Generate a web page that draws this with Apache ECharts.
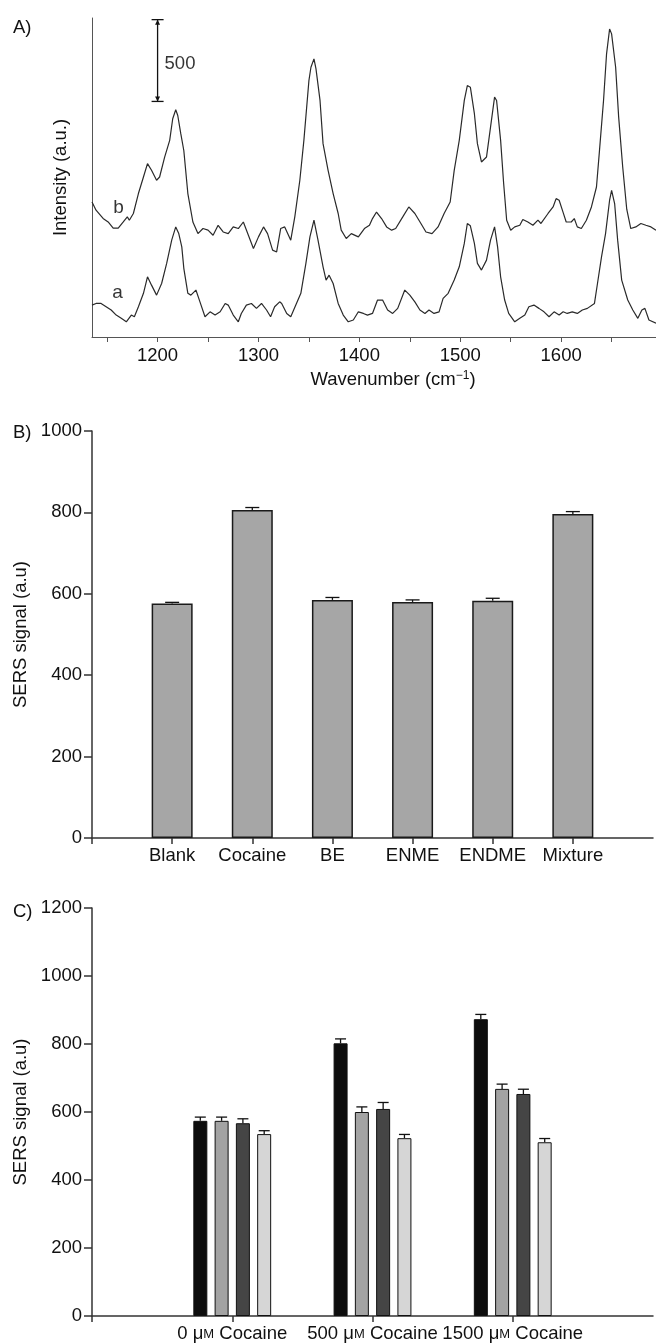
<!DOCTYPE html>
<html>
<head>
<meta charset="utf-8">
<title>SERS spectra and signals</title>
<script src="https://cdn.jsdelivr.net/npm/echarts@6/dist/echarts.min.js"></script>
<style>
html, body { margin: 0; padding: 0; background: #fff; }
#chart { width: 656px; height: 1344px; }
</style>
</head>
<body>
<div id="chart"></div>
<script>
// A) spectra, [wavenumber, intensity]
const spectrumB = [
  [1135,825],[1139,775],[1146,725],[1151,703],[1156,665],[1161,665],[1166,703],[1170,734],[1172,714],[1176,755],
  [1181,877],[1186,978],[1190,1060],[1194,1019],[1199,958],[1202,978],[1207,1100],[1212,1202],[1215,1334],[1218,1389],
  [1220,1354],[1223,1243],[1226,1140],[1230,877],[1235,703],[1240,632],[1245,663],[1250,653],[1255,622],[1260,683],
  [1265,642],[1270,632],[1275,673],[1280,663],[1285,703],[1290,622],[1295,541],[1300,612],[1305,673],[1309,632],
  [1314,531],[1318,520],[1322,663],[1326,673],[1332,592],[1336,734],[1341,958],[1345,1202],[1350,1568],[1352,1649],
  [1355,1700],[1357,1639],[1361,1446],[1364,1182],[1369,1019],[1374,877],[1379,755],[1382,653],[1387,602],[1392,632],
  [1399,612],[1405,663],[1410,683],[1413,724],[1417,764],[1422,724],[1427,673],[1432,653],[1436,663],[1443,734],
  [1449,795],[1455,755],[1461,694],[1466,642],[1472,632],[1478,673],[1484,755],[1490,825],[1494,1019],[1499,1202],
  [1504,1446],[1507,1537],[1510,1527],[1514,1365],[1517,1182],[1521,1070],[1526,1100],[1530,1283],[1534,1466],[1536,1446],
  [1540,1202],[1543,938],[1546,714],[1550,653],[1554,673],[1559,683],[1562,718],[1567,703],[1572,683],[1577,714],
  [1580,694],[1587,755],[1592,795],[1595,846],[1598,836],[1602,760],[1605,703],[1610,703],[1613,724],[1616,673],
  [1620,663],[1625,714],[1630,795],[1635,917],[1638,1141],[1642,1446],[1645,1731],[1648,1883],[1650,1853],[1654,1649],
  [1657,1344],[1661,1039],[1665,781],[1669,663],[1674,673],[1679,694],[1684,683],[1689,673],[1694,653]
];
const spectrumA = [
  [1135,195],[1139,205],[1144,205],[1149,185],[1154,165],[1159,134],[1164,114],[1169,93],[1174,134],[1177,124],
  [1181,185],[1186,267],[1190,368],[1194,317],[1199,256],[1204,327],[1209,450],[1214,592],[1218,673],[1221,632],
  [1224,551],[1226,420],[1230,267],[1233,256],[1238,287],[1242,215],[1247,124],[1252,154],[1257,134],[1262,154],
  [1267,205],[1270,195],[1275,134],[1280,93],[1283,144],[1288,195],[1293,205],[1298,175],[1303,205],[1308,165],
  [1312,124],[1316,185],[1321,215],[1323,205],[1328,144],[1332,124],[1337,195],[1342,267],[1347,450],[1351,612],
  [1355,714],[1359,592],[1364,429],[1367,348],[1370,378],[1374,327],[1379,205],[1384,134],[1389,93],[1394,104],
  [1399,154],[1404,144],[1408,134],[1413,144],[1418,226],[1423,226],[1428,165],[1433,144],[1438,175],[1445,287],
  [1450,256],[1455,215],[1460,165],[1465,144],[1469,165],[1474,144],[1479,154],[1483,236],[1488,267],[1494,348],
  [1499,429],[1504,572],[1507,694],[1510,680],[1514,572],[1517,450],[1521,409],[1526,470],[1530,592],[1534,673],
  [1537,551],[1540,368],[1544,226],[1548,144],[1554,93],[1559,114],[1564,134],[1568,185],[1573,195],[1578,175],
  [1583,154],[1588,124],[1593,154],[1598,134],[1602,154],[1606,144],[1611,154],[1616,144],[1621,165],[1626,175],
  [1633,205],[1636,327],[1640,490],[1644,632],[1648,836],[1650,897],[1653,816],[1656,592],[1660,348],[1666,226],
  [1671,165],[1676,114],[1680,165],[1683,175],[1687,104],[1694,84]
];
const waveTicks = [1150, 1200, 1250, 1300, 1350, 1400, 1450, 1500, 1550, 1600, 1650];
const waveLabels = [1200, 1300, 1400, 1500, 1600];
const traceNames = [['b', 1156, 787], ['a', 1155, 268]];
const scaleBar = [1200, 1440, 500]; // wavenumber, start, length

// B) selectivity
const analytes = ['Blank', 'Cocaine', 'BE', 'ENME', 'ENDME', 'Mixture'];
const analyteSignal = [576, 806, 585, 580, 583, 796];
const analyteError = [3, 6, 6, 5, 6, 6];

// C) cocaine levels, one row per bar colour
const cocaineLevels = ['0 μM Cocaine', '500 μM Cocaine', '1500 μM Cocaine'];
const groupSignal = [
  [574, 802, 873],
  [574, 600, 668],
  [567, 609, 653],
  [535, 523, 511]
];
const groupError = [
  [11, 13, 14],
  [11, 15, 14],
  [13, 19, 14],
  [10, 11, 11]
];
const groupColors = ['#0d0d0d', '#a3a3a3', '#454545', '#d6d6d6'];

const FONT = 'Liberation Sans, Arial, sans-serif';
const FS = 18.5;
const TXT = '#111';
const AXIS = '#333';

const chart = echarts.init(document.getElementById('chart'));

const pad = arr => [''].concat(arr, ['']);
const plain = v => String(v);

const errorBar = (offset, cap) => (params, api) => {
  const x = api.value(0);
  const base = api.coord([x, api.value(1)]);
  const top = api.coord([x, api.value(1) + api.value(2)]);
  const cx = base[0] + offset;
  const style = { stroke: '#111', lineWidth: 1.3 };
  return {
    type: 'group',
    children: [
      { type: 'line', shape: { x1: cx, y1: base[1], x2: cx, y2: top[1] }, style },
      { type: 'line', shape: { x1: cx - cap, y1: top[1], x2: cx + cap, y2: top[1] }, style }
    ]
  };
};

const valueAxisStyle = {
  axisLine: { show: true, lineStyle: { color: AXIS, width: 1.5 } },
  axisTick: { show: true, length: 8, lineStyle: { color: AXIS, width: 1.5 } },
  axisLabel: { color: TXT, fontSize: FS, fontFamily: FONT, margin: 10, formatter: plain },
  splitLine: { show: false },
  nameLocation: 'middle',
  nameRotate: 90,
  nameGap: 61,
  nameTextStyle: { color: TXT, fontSize: FS, fontFamily: FONT }
};

const categoryAxisStyle = {
  type: 'category', boundaryGap: false,
  axisLine: { lineStyle: { color: AXIS, width: 1.5 } },
  axisTick: { show: true, length: 6, interval: (i, v) => i === 0 || v !== '', lineStyle: { color: AXIS, width: 1.5 } },
  axisLabel: {
    color: TXT, fontSize: FS, fontFamily: FONT, margin: 8, interval: 0,
    formatter: v => v.replace('μM', '{u|μ}{m|M}'),
    rich: {
      u: { fontSize: FS, fontFamily: FONT, color: TXT },
      m: { fontSize: 13, fontFamily: FONT, color: TXT, padding: [2, 0, 0, 0] }
    }
  }
};

const barWidthC = 14;
const stepC = 21.3;

const series = [
  {
    type: 'line', xAxisIndex: 0, yAxisIndex: 0, data: spectrumB, showSymbol: false,
    lineStyle: { color: '#2a2a2a', width: 1.2 }
  },
  {
    type: 'line', xAxisIndex: 0, yAxisIndex: 0, data: spectrumA, showSymbol: false,
    lineStyle: { color: '#2a2a2a', width: 1.2 }
  },
  {
    type: 'scatter', xAxisIndex: 0, yAxisIndex: 0, symbolSize: 0,
    data: traceNames.map(t => ({ value: [t[1], t[2]], name: t[0] })),
    label: { show: true, position: 'right', distance: 0, formatter: '{b}', color: '#000', fontSize: 19, fontFamily: FONT }
  },
  {
    type: 'custom', xAxisIndex: 0, yAxisIndex: 0,
    data: [scaleBar],
    renderItem: (params, api) => {
      const b = api.coord([api.value(0), api.value(1)]);
      const t = api.coord([api.value(0), api.value(1) + api.value(2)]);
      const style = { stroke: '#111', lineWidth: 1.3 };
      return {
        type: 'group',
        children: [
          { type: 'line', shape: { x1: b[0], y1: b[1], x2: t[0], y2: t[1] }, style },
          { type: 'line', shape: { x1: b[0] - 6, y1: b[1], x2: b[0] + 6, y2: b[1] }, style },
          { type: 'line', shape: { x1: t[0] - 6, y1: t[1], x2: t[0] + 6, y2: t[1] }, style },
          { type: 'polygon', shape: { points: [[t[0], t[1]], [t[0] - 2.5, t[1] + 5], [t[0] + 2.5, t[1] + 5]] }, style: { fill: '#111' } },
          { type: 'polygon', shape: { points: [[b[0], b[1]], [b[0] - 2.5, b[1] - 5], [b[0] + 2.5, b[1] - 5]] }, style: { fill: '#111' } }
        ]
      };
    }
  },
  {
    type: 'scatter', xAxisIndex: 0, yAxisIndex: 0, symbolSize: 0,
    data: [[scaleBar[0], scaleBar[1] + scaleBar[2] * 0.46]],
    label: { show: true, position: 'right', distance: 7, formatter: String(scaleBar[2]), color: '#000', fontSize: FS, fontFamily: FONT }
  },
  {
    type: 'bar', xAxisIndex: 1, yAxisIndex: 1, barWidth: 41,
    data: [null].concat(analyteSignal, [null]),
    itemStyle: { color: '#a6a6a6', borderColor: '#1a1a1a', borderWidth: 1.5 }
  },
  {
    type: 'custom', xAxisIndex: 1, yAxisIndex: 1,
    data: analytes.map((a, i) => [i + 1, analyteSignal[i], analyteError[i]]),
    renderItem: errorBar(0, 7)
  }
];

groupSignal.forEach((row, s) => {
  series.push({
    type: 'bar', xAxisIndex: 2, yAxisIndex: 2, barWidth: barWidthC, barGap: '52%',
    data: [null].concat(row, [null]),
    itemStyle: { color: groupColors[s], borderColor: '#111', borderWidth: 1 }
  });
});
groupSignal.forEach((row, s) => {
  series.push({
    type: 'custom', xAxisIndex: 2, yAxisIndex: 2,
    data: row.map((v, i) => [i + 1, v, groupError[s][i]]),
    renderItem: errorBar((s - 1.5) * stepC, 5.5)
  });
});

const panelTitle = (text, top) => ({
  text, left: 8, top,
  textStyle: { color: TXT, fontSize: FS, fontWeight: 'normal', fontFamily: FONT }
});

chart.setOption({
  animation: false,
  backgroundColor: '#fff',
  title: [panelTitle('A)', 13), panelTitle('B)', 418), panelTitle('C)', 897)],
  grid: [
    { left: 92, top: 18, width: 564, height: 319 },
    { left: 92, top: 431, width: 566, height: 407 },
    { left: 92, top: 908, width: 566, height: 408 }
  ],
  xAxis: [
    {
      gridIndex: 0, type: 'value', min: 1135, max: 1694,
      axisLine: { show: true, onZero: false, lineStyle: { color: '#555', width: 1 } },
      axisTick: { show: true, length: 5, customValues: waveTicks, lineStyle: { color: '#555' } },
      axisLabel: { customValues: waveLabels, color: TXT, fontSize: FS, fontFamily: FONT, margin: 9, formatter: plain },
      splitLine: { show: false },
      name: 'Wavenumber (cm{sup|−1})',
      nameLocation: 'middle', nameGap: 33,
      nameTextStyle: {
        color: TXT, fontSize: FS, fontFamily: FONT, padding: [0, 0, 0, 38],
        rich: { sup: { fontSize: 12, verticalAlign: 'top', padding: [0, 0, 8, 0], color: TXT, fontFamily: FONT } }
      }
    },
    Object.assign({ gridIndex: 1, data: pad(analytes) }, categoryAxisStyle),
    Object.assign({ gridIndex: 2, data: pad(cocaineLevels) }, categoryAxisStyle)
  ],
  yAxis: [
    {
      gridIndex: 0, type: 'value', min: 0, max: 1950,
      axisLine: { show: true, lineStyle: { color: '#555', width: 1 } },
      axisTick: { show: false }, axisLabel: { show: false }, splitLine: { show: false },
      name: 'Intensity (a.u.)', nameLocation: 'middle', nameRotate: 90, nameGap: 22,
      nameTextStyle: { color: TXT, fontSize: FS, fontFamily: FONT }
    },
    Object.assign({ gridIndex: 1, type: 'value', min: 0, max: 1000, interval: 200, name: 'SERS signal (a.u)' }, valueAxisStyle),
    Object.assign({ gridIndex: 2, type: 'value', min: 0, max: 1200, interval: 200, name: 'SERS signal (a.u)' }, valueAxisStyle)
  ],
  series: series
});
</script>
</body>
</html>
